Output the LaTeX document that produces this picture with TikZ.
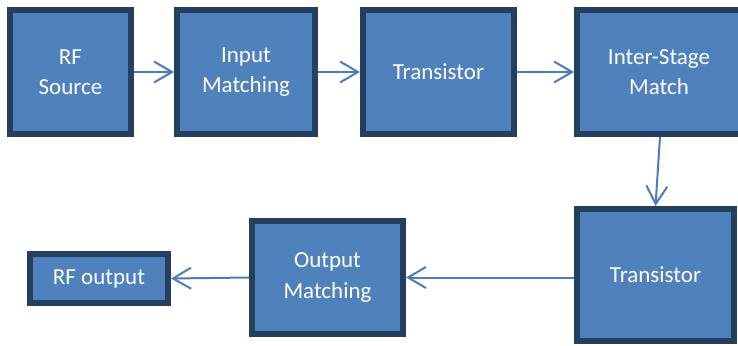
\documentclass[tikz,border=0pt]{standalone}
\usepackage{fontspec}
\setmainfont{Carlito}
\usepackage{tikz}
\usetikzlibrary{arrows.meta}
\usetikzlibrary{positioning}
\definecolor{boxfill}{HTML}{4F81BD}
\definecolor{boxedge}{HTML}{243F60}
\definecolor{arrowline}{HTML}{4A7EBB}
\tikzstyle{block}=[draw=boxedge,fill=boxfill,line width=6pt,rectangle,inner sep=0pt,outer sep=3pt,
  text=white,align=center,font=\fontsize{23}{30.5}\selectfont]
\tikzstyle{link}=[draw=arrowline,line width=2pt,-{Straight Barb[length=18pt,width=21pt,line width=2pt]}]

\begin{document}
\begin{tikzpicture}[x=1pt,y=-1pt]
\useasboundingbox (0,0) rectangle (738,345);
% top row
\node [block,minimum width=121pt,minimum height=124pt] (src) at (70.5,72) {RF\\Source};
\node [block,minimum width=138pt,minimum height=124pt] (inm) at (246,72) {Input\\Matching};
\node [block,minimum width=151pt,minimum height=124pt] (tr1) at (438.5,72) {Transistor};
\node [block,minimum width=164pt,minimum height=124pt] (ism) at (659,72) {Inter-Stage\\Match};
% bottom row
\node [block,minimum width=157pt,minimum height=132pt] (tr2) at (655.5,275) {Transistor};
\node [block,minimum width=151pt,minimum height=113pt] (outm) at (327.5,277.5) {Output\\Matching};
\node [block,minimum width=138pt,minimum height=49pt] (rfout) at (99,278.5) {RF output};

\draw[link] (src) -- (inm);
\draw[link] (inm) -- (tr1);
\draw[link] (tr1) -- (ism);
\draw[link] ([xshift=1pt]ism.south) -- (tr2.north);
\draw[link] (tr2.west |- outm.east) -- (outm.east);
\draw[link] (outm.west) -- (rfout.east);
\end{tikzpicture}
\end{document}
